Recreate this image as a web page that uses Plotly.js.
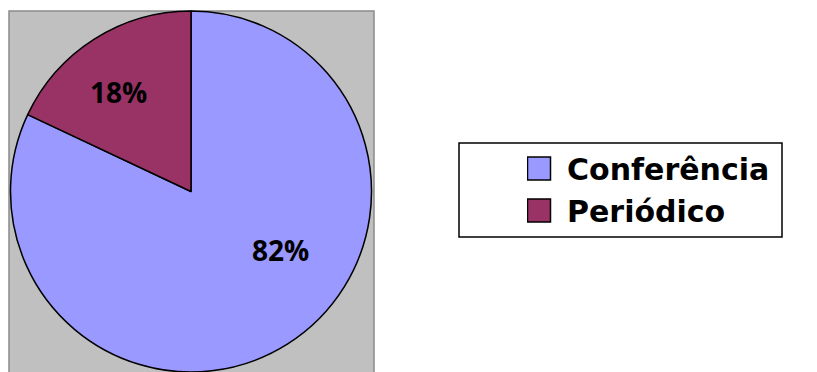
<!DOCTYPE html>
<html>
<head>
<meta charset="utf-8">
<script src="https://cdn.plot.ly/plotly-3.0.1.min.js"></script>
<style>html,body{margin:0;padding:0;background:#fff;}</style>
</head>
<body>
<div id="chart" style="width:817px;height:372px;"></div>
<script>
const categories = ["Conferência", "Periódico"];
const values = [82, 18];
const sliceColors = ["#9999FF", "#993366"];

const W = 817, H = 372;
const cx = 191, cy = 192, r = 181;

// label anchor positions in pixels (layout only)
const labelPos = [[280, 250], [118.5, 92]];

const total = values.reduce(function (a, b) { return a + b; }, 0);

const trace = {
  type: "pie",
  labels: categories,
  values: values,
  sort: false,
  direction: "clockwise",
  rotation: 0,
  marker: { colors: sliceColors, line: { color: "#000000", width: 1.5 } },
  textinfo: "none",
  hoverinfo: "label+percent",
  domain: { x: [(cx - r) / W, (cx + r) / W], y: [(H - cy - r) / H, (H - cy + r) / H] }
};

const annotations = values.map(function (v, i) {
  return {
    xref: "paper", yref: "paper",
    x: labelPos[i][0] / W, y: (H - labelPos[i][1]) / H,
    xanchor: "center", yanchor: "middle",
    text: Math.round(v / total * 100) + "%",
    showarrow: false,
    font: { family: "Open Sans", size: 28, color: "#000000", weight: "bold" }
  };
});

const layout = {
  width: W, height: H,
  margin: { l: 0, r: 0, t: 0, b: 0, pad: 0 },
  paper_bgcolor: "#ffffff",
  showlegend: true,
  legend: {
    x: 527 / W, y: (H - 142.5) / H, xanchor: "left", yanchor: "top",
    bgcolor: "rgba(0,0,0,0)", borderwidth: 0,
    font: { family: "DejaVu Sans", size: 30, color: "#000000", weight: "bold" },
    itemclick: false, itemdoubleclick: false
  },
  annotations: annotations,
  shapes: [
    { type: "rect", xref: "paper", yref: "paper", layer: "below",
      x0: 9 / W, x1: 374 / W, y0: -0.02, y1: (H - 11) / H,
      fillcolor: "#C0C0C0", line: { color: "#8a8a8a", width: 1.5 } },
    { type: "rect", xref: "paper", yref: "paper", layer: "below",
      x0: 459 / W, x1: 782 / W, y0: (H - 237) / H, y1: (H - 143) / H,
      fillcolor: "#ffffff", line: { color: "#000000", width: 1.5 } }
  ]
};

Plotly.newPlot("chart", [trace], layout, { displayModeBar: false }).then(function () {
  document.querySelectorAll(".legendpoints path").forEach(function (p) {
    p.setAttribute("d", "M3.5,11.5H-19.5V-11.5H3.5Z");
  });
});
</script>
</body>
</html>
